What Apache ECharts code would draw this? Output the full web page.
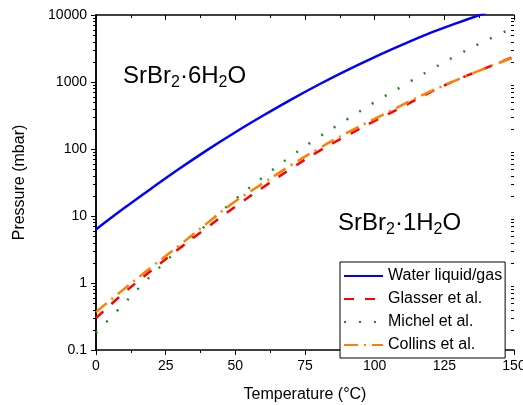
<!DOCTYPE html>
<html><head><meta charset="utf-8">
<script src="https://cdn.jsdelivr.net/npm/echarts@6/dist/echarts.min.js"></script>
<style>html,body{margin:0;padding:0;background:#fff}#c{width:523px;height:405px}</style>
</head><body><div id="c"></div>
<script>
// Data
const temperatures = [0, 10, 20, 30, 40, 50, 60, 70, 80, 90, 100, 110, 120, 130, 140, 150];
const waterLiquidGas = [6.3, 13, 26, 51, 97, 178, 316, 547, 918, 1490, 2350, 3600, 5400, 7700, 10800, null];
const glasser = [0.30, 0.71, 1.55, 3.3, 6.8, 13.8, 26.9, 51, 93, 158, 263, 427, 708, 1096, 1622, 2400];
const michel = [0.18, 0.49, 1.32, 3.27, 7.6, 17.8, 38, 78, 151, 275, 501, 871, 1514, 2570, 4170, 6500];
const collins = [0.37, 0.81, 1.74, 3.67, 7.9, 16.6, 30.9, 57.5, 102, 174, 282, 457, 724, 1096, 1622, 2344];
const seriesNames = ['Water liquid/gas', 'Glasser et al.', 'Michel et al.', 'Collins et al.'];
const xTicks = [0, 25, 50, 75, 100, 125, 150];
const yDecades = [0.1, 1, 10, 100, 1000, 10000];
const logMinorTicks = [0.2,0.3,0.4,0.5,0.6,0.7,0.8,0.9, 2,3,4,5,6,7,8,9, 20,30,40,50,60,70,80,90, 200,300,400,500,600,700,800,900, 2000,3000,4000,5000,6000,7000,8000,9000];

const F = 'Arial, "Liberation Sans", sans-serif';
function pairs(vals){ const out=[]; temperatures.forEach((t,i)=>{ if(vals[i]!=null) out.push([t, vals[i]]); }); return out; }

const chart = echarts.init(document.getElementById('c'), null, {renderer:'canvas'});
const axisLine = {show:true, lineStyle:{color:'#000', width:1.5}};
const option = {
  animation:false,
  backgroundColor:'#fff',
  grid:{left:96, top:15, width:418, height:335, containLabel:false, outerBoundsMode:'none'},
  xAxis:[
    {type:'value', min:xTicks[0], max:xTicks[xTicks.length-1], interval:25, position:'bottom',
     axisLine, axisTick:{show:true, inside:false, length:5, lineStyle:{color:'#000', width:1}},
     minorTick:{show:true, splitNumber:2, length:3, lineStyle:{color:'#000', width:1}},
     axisLabel:{color:'#000', fontSize:14, fontFamily:F, margin:9},
     splitLine:{show:false},
     name:'Temperature (°C)', nameLocation:'middle', nameGap:37,
     nameTextStyle:{color:'#000', fontSize:16, fontFamily:F}},
    {type:'value', min:xTicks[0], max:xTicks[xTicks.length-1], interval:25, position:'top',
     axisLine, axisTick:{show:true, inside:true, length:5, lineStyle:{color:'#000', width:1}},
     minorTick:{show:true, splitNumber:2, length:3, lineStyle:{color:'#000', width:1}},
     axisLabel:{show:false}, splitLine:{show:false}}
  ],
  yAxis:[
    {type:'log', logBase:10, min:yDecades[0], max:yDecades[yDecades.length-1], splitNumber:5, position:'left',
     axisLine, axisTick:{show:true, inside:false, length:5, lineStyle:{color:'#000', width:1}},
     axisLabel:{color:'#000', fontSize:14, fontFamily:F, margin:9, formatter:v=>String(+(+v).toPrecision(6))},
     splitLine:{show:false},
     name:'Pressure (mbar)', nameLocation:'middle', nameGap:68,
     nameTextStyle:{color:'#000', fontSize:16, fontFamily:F}},
    {type:'log', logBase:10, min:yDecades[0], max:yDecades[yDecades.length-1], splitNumber:5, position:'right',
     axisLine, axisTick:{show:true, inside:true, length:5, lineStyle:{color:'#000', width:1}},
     axisLabel:{show:false}, splitLine:{show:false}}
  ],
  legend:{
    data:seriesNames, orient:'vertical', left:340, top:262,
    padding:[6,3,5,3], itemWidth:39, itemHeight:14, itemGap:7,
    borderColor:'#000', borderWidth:1, backgroundColor:'#fff',
    itemStyle:{opacity:0},
    textStyle:{color:'#000', fontSize:16, fontFamily:F}, z:10
  },
  graphic:[
    {type:'text', left:123, top:64, z:20, style:{text:'{a|SrBr}{s|2}{a|·6H}{s|2}{a|O}', fill:'#000',
      rich:{a:{fontSize:24, lineHeight:30, fontFamily:F, fill:'#000', color:'#000'},
            s:{fontSize:16, lineHeight:9, verticalAlign:'bottom', fontFamily:F, fill:'#000', color:'#000'}}}},
    {type:'text', left:338, top:211, z:20, style:{text:'{a|SrBr}{s|2}{a|·1H}{s|2}{a|O}', fill:'#000',
      rich:{a:{fontSize:24, lineHeight:30, fontFamily:F, fill:'#000', color:'#000'},
            s:{fontSize:16, lineHeight:9, verticalAlign:'bottom', fontFamily:F, fill:'#000', color:'#000'}}}}
  ],
  series:[
    {name:seriesNames[0], type:'line', data:pairs(waterLiquidGas), smooth:0.4, symbol:'none', clip:true,
     color:'#0000ff', lineStyle:{color:'#0000ff', width:2.5, type:'solid'}, z:5},
    {name:seriesNames[1], type:'line', data:pairs(glasser), smooth:0.4, symbol:'none', clip:true,
     color:'#ff0000', lineStyle:{color:'#ff0000', width:2.5, type:[10,11]}, z:4},
    {name:seriesNames[2], type:'line', data:pairs(michel), smooth:0.4, symbol:'none', clip:true,
     color:'#1a8c1a', lineStyle:{color:'#1a8c1a', width:2.5, type:[2,13]}, z:3},
    {name:seriesNames[3], type:'line', data:pairs(collins), smooth:0.4, symbol:'none', clip:true,
     color:'#ff8000', lineStyle:{color:'#ff8000', width:2.5, type:[14,6,2,6]}, z:4},
    {type:'custom', name:'logMinor', silent:true, clip:false, z:6,
     data:logMinorTicks.map(v=>[0, v]),
     renderItem:function(params, api){
       const p = api.coord([0, api.value(1)]);
       const cs = params.coordSys;
       const y = Math.round(p[1]) + 0.5;
       return {type:'group', children:[
         {type:'line', shape:{x1:cs.x, y1:y, x2:cs.x-3, y2:y}, style:{stroke:'#000', lineWidth:1}},
         {type:'line', shape:{x1:cs.x+cs.width, y1:y, x2:cs.x+cs.width-3, y2:y}, style:{stroke:'#000', lineWidth:1}}
       ]};
     }}
  ]
};
chart.setOption(option);
</script>
</body></html>
